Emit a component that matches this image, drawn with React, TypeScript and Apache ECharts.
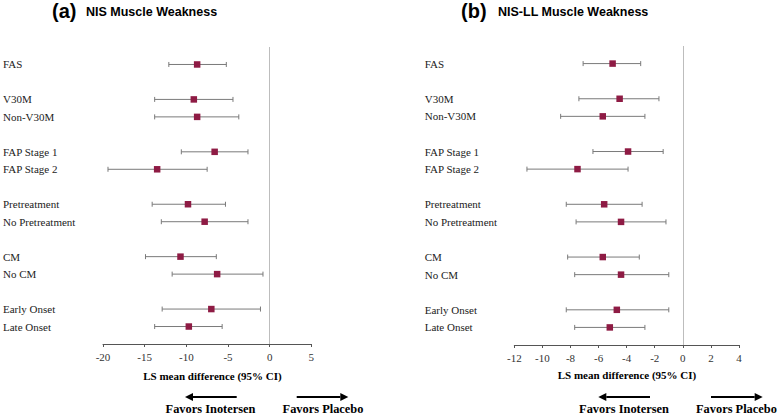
import React, { useEffect, useRef } from "react";
import * as echarts from "echarts";

const rows = ["", "FAS", "", "V30M", "Non-V30M", "", "FAP Stage 1", "FAP Stage 2", "", "Pretreatment", "No Pretreatment", "", "CM", "No CM", "", "Early Onset", "Late Onset", ""];
const rowIndex = [1, 3, 4, 6, 7, 9, 10, 12, 13, 15, 16];

// (a) NIS Muscle Weakness
const nisMean = [-8.7, -9.1, -8.7, -6.6, -13.5, -9.8, -7.8, -10.7, -6.3, -7.0, -9.7];
const nisLow = [-12.1, -13.8, -13.8, -10.6, -19.4, -14.1, -13.0, -14.9, -11.7, -12.9, -13.8];
const nisHigh = [-5.2, -4.4, -3.7, -2.6, -7.5, -5.3, -2.6, -6.4, -0.8, -1.1, -5.7];

// (b) NIS-LL Muscle Weakness
const llMean = [-5.0, -4.5, -5.7, -3.9, -7.5, -5.6, -4.4, -5.7, -4.4, -4.7, -5.2];
const llLow = [-7.1, -7.4, -8.7, -6.4, -11.1, -8.3, -7.6, -8.2, -7.7, -8.3, -7.7];
const llHigh = [-3.0, -1.7, -2.7, -1.4, -3.9, -2.9, -1.2, -3.1, -1.0, -1.0, -2.7];

const serif = "'Liberation Serif', 'Times New Roman', serif";
const sans = "'Liberation Sans', Arial, sans-serif";

function errorBars(idx: number, low: number[], high: number[]) {
  return {
    type: "custom",
    xAxisIndex: idx,
    yAxisIndex: idx,
    encode: { x: [1, 2], y: 0 },
    data: rowIndex.map((r, i) => [r, low[i], high[i]]),
    renderItem: (params: any, api: any) => {
      const y = api.value(0);
      const a = api.coord([api.value(1), y]);
      const b = api.coord([api.value(2), y]);
      const style = { stroke: "#7a7a7a", lineWidth: 1, fill: "none" };
      return {
        type: "group",
        children: [
          { type: "line", shape: { x1: a[0], y1: a[1], x2: b[0], y2: b[1] }, style },
          { type: "line", shape: { x1: a[0], y1: a[1] - 2.5, x2: a[0], y2: a[1] + 2.5 }, style },
          { type: "line", shape: { x1: b[0], y1: b[1] - 2.5, x2: b[0], y2: b[1] + 2.5 }, style },
        ],
      };
    },
    z: 2,
  };
}

function means(idx: number, mean: number[]) {
  return {
    type: "scatter",
    xAxisIndex: idx,
    yAxisIndex: idx,
    symbol: "rect",
    symbolSize: 6.5,
    itemStyle: { color: "#8e1b44", opacity: 1 },
    data: rowIndex.map((r, i) => [mean[i], r]),
    z: 3,
    markLine: {
      silent: true,
      symbol: "none",
      label: { show: false },
      lineStyle: { color: "#bdbdbd", width: 1, type: "solid" },
      data: [{ xAxis: 0 }],
    },
  };
}

function xAxis(idx: number, min: number, max: number, interval: number) {
  return {
    type: "value",
    gridIndex: idx,
    min,
    max,
    interval,
    splitLine: { show: false },
    axisLine: { show: true, onZero: false, lineStyle: { color: "#555", width: 1 } },
    axisTick: { show: true, length: 3, lineStyle: { color: "#555" } },
    axisLabel: { color: "#333", fontFamily: serif, fontSize: 11, margin: 7 },
  };
}

function yAxis(idx: number, margin: number) {
  return {
    type: "value",
    gridIndex: idx,
    min: 0,
    max: 17,
    interval: 1,
    inverse: true,
    splitLine: { show: false },
    axisLine: { show: false },
    axisTick: { show: false },
    axisLabel: {
      show: true,
      align: "left",
      margin,
      color: "#222",
      fontFamily: serif,
      fontSize: 11,
      showMinLabel: true,
      showMaxLabel: true,
      formatter: (v: number) => rows[Math.round(v)] ?? "",
    },
  };
}

function arrow(x1: number, x2: number, y: number, dir: number) {
  const tip = dir < 0 ? x1 : x2;
  const base = tip - dir * 8;
  return [
    {
      type: "line",
      shape: { x1: dir < 0 ? base : x1, y1: y, x2: dir < 0 ? x2 : base, y2: y },
      style: { stroke: "#000", lineWidth: 2.2 },
    },
    {
      type: "polygon",
      shape: { points: [[tip, y], [base, y - 4], [base, y + 4]] },
      style: { fill: "#000" },
    },
  ];
}

function text(x: number, y: number, t: string, font: string, size: number, align = "center", weight = "bold") {
  return {
    type: "text",
    x,
    y,
    style: {
      text: t,
      fontFamily: font,
      fontSize: size,
      fontWeight: weight,
      fill: "#000",
      align,
      verticalAlign: "middle",
    },
  };
}

export default function App() {
  const ref = useRef<HTMLDivElement>(null);
  useEffect(() => {
    document.body.style.margin = "0";
    const chart = echarts.init(ref.current!, null, { renderer: "svg" });
    chart.setOption({
      animation: false,
      backgroundColor: "#fff",
      grid: [
        { left: 101, width: 210.3, top: 47, height: 297 },
        { left: 514.3, width: 224.7, top: 46, height: 299 },
      ],
      xAxis: [xAxis(0, -20, 5, 5), xAxis(1, -12, 4, 2)],
      yAxis: [yAxis(0, 100), yAxis(1, 89.6)],
      series: [errorBars(0, nisLow, nisHigh), means(0, nisMean), errorBars(1, llLow, llHigh), means(1, llMean)],
      graphic: [
        text(52, 11, "(a)", sans, 20, "left"),
        text(86, 12, "NIS Muscle Weakness", sans, 12.5, "left"),
        text(461, 11, "(b)", sans, 20, "left"),
        text(498, 12, "NIS-LL Muscle Weakness", sans, 12.5, "left"),
        text(212.5, 376, "LS mean difference (95% CI)", serif, 11),
        text(627, 375, "LS mean difference (95% CI)", serif, 11),
        ...arrow(185, 236.7, 397, -1),
        ...arrow(296.7, 348.3, 397, 1),
        ...arrow(598.3, 650, 397, -1),
        ...arrow(711, 762.7, 397, 1),
        text(210.5, 409, "Favors Inotersen", serif, 12.4),
        text(323, 409, "Favors Placebo", serif, 12.4),
        text(624, 409, "Favors Inotersen", serif, 12.4),
        text(696, 409, "Favors Placebo", serif, 12.4, "left"),
      ],
    });
    return () => chart.dispose();
  }, []);
  return <div ref={ref} style={{ width: 777, height: 415 }} />;
}
